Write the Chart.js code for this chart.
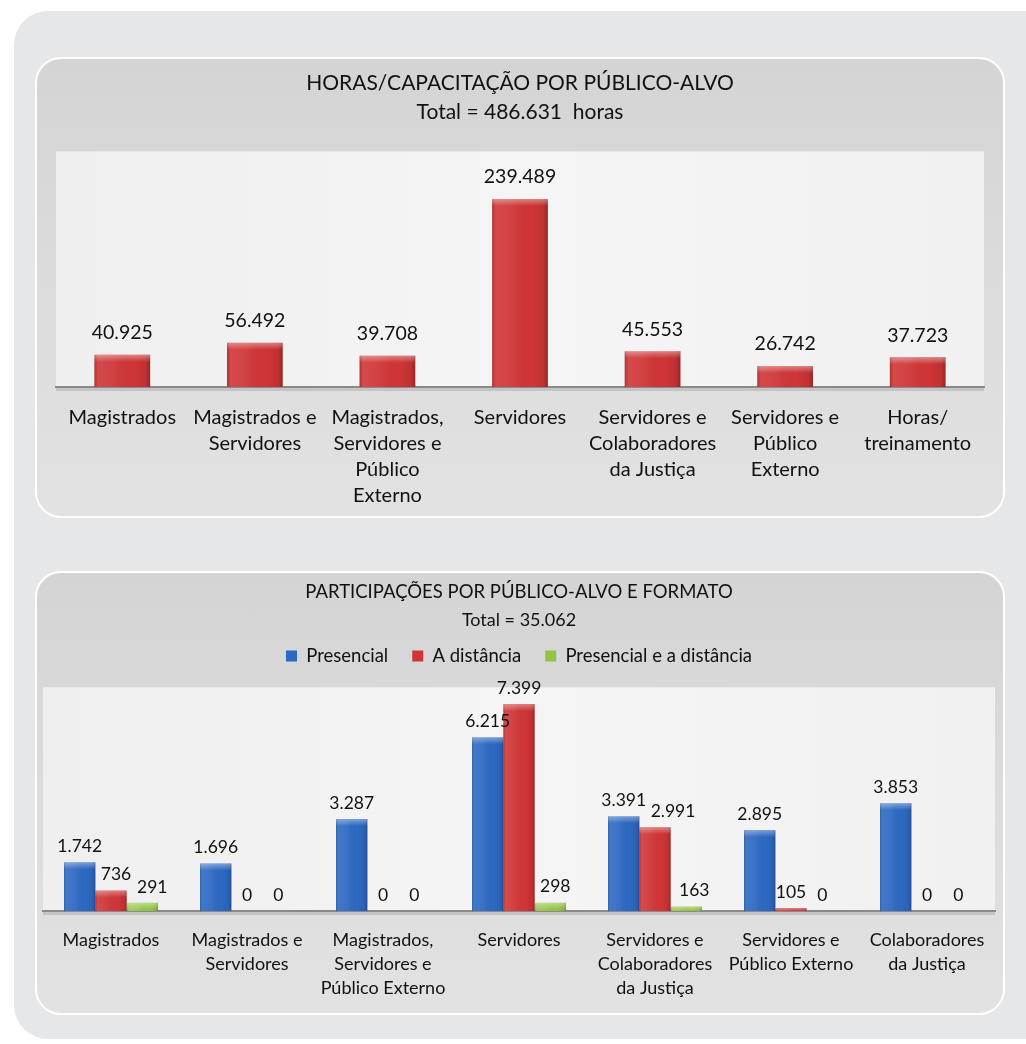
<!DOCTYPE html>
<html><head><meta charset="utf-8">
<script src="https://cdn.jsdelivr.net/npm/chart.js@4"></script>
<style>
html,body{margin:0;padding:0;background:#fff;}
body{width:1026px;height:1044px;position:relative;overflow:hidden;font-family:Lato,sans-serif;}
#outer{position:absolute;left:14px;top:11px;width:1080px;height:1028px;background:#e6e7e9;border-radius:34px;}
.panel{position:absolute;left:35px;width:966px;border:2px solid #fff;border-radius:26px;overflow:hidden;
 background:linear-gradient(180deg,#d4d4d4 0%,#d9d9d9 30%,#dedede 70%,#e2e2e2 100%);}
#p1{top:57px;height:457px;}
#p2{top:571px;height:440px;}
.wrap{position:absolute;left:0;top:0;width:966px;}
#w1{height:457px;}
#w2{height:440px;}
</style></head>
<body>
<div id="outer"></div>
<div class="panel" id="p1"><div class="wrap" id="w1"><canvas id="c1"></canvas></div></div>
<div class="panel" id="p2"><div class="wrap" id="w2"><canvas id="c2"></canvas></div></div>
<script>
// ---------- DATA ----------
const title1 = "HORAS/CAPACITAÇÃO POR PÚBLICO-ALVO";
const subtitle1 = "Total = 486.631  horas";
const categories1 = [
  ["Magistrados"],
  ["Magistrados e","Servidores"],
  ["Magistrados,","Servidores e","Público","Externo"],
  ["Servidores"],
  ["Servidores e","Colaboradores","da Justiça"],
  ["Servidores e","Público","Externo"],
  ["Horas/","treinamento"]
];
const hours = [40925, 56492, 39708, 239489, 45553, 26742, 37723];

const title2 = "PARTICIPAÇÕES POR PÚBLICO-ALVO E FORMATO";
const subtitle2 = "Total = 35.062";
const categories2 = [
  ["Magistrados"],
  ["Magistrados e","Servidores"],
  ["Magistrados,","Servidores e","Público Externo"],
  ["Servidores"],
  ["Servidores e","Colaboradores","da Justiça"],
  ["Servidores e","Público Externo"],
  ["Colaboradores","da Justiça"]
];
const seriesNames = ["Presencial", "A distância", "Presencial e a distância"];
const presencial = [1742, 1696, 3287, 6215, 3391, 2895, 3853];
const aDistancia = [736, 0, 0, 7399, 2991, 105, 0];
const ambos = [291, 0, 0, 298, 163, 0, 0];

// ---------- STYLE ----------
const FONT = "Lato, 'Open Sans', sans-serif";
const TEXT = "#111111";
const RED = "#cf3536", BLUE = "#2d69c2", GREEN = "#93c445";
// label nudges (pixels, styling only) keyed "dataset:index"
const labelNudge2 = { "1:0": 5, "2:0": 10, "2:3": 5, "1:4": 18, "2:4": 8 };

function fmt(v){ return String(v).replace(/\B(?=(\d{3})+(?!\d))/g, "."); }

const plotBg = {
  id: 'plotBg',
  beforeDraw(chart){
    const {ctx, chartArea:a} = chart;
    ctx.save();
    const g = ctx.createLinearGradient(a.left,0,a.right,0);
    g.addColorStop(0,'#efefef'); g.addColorStop(0.5,'#f5f5f5'); g.addColorStop(1,'#f1f1f1');
    ctx.fillStyle = g;
    ctx.fillRect(a.left, a.top, a.right-a.left, a.bottom-a.top);
    ctx.fillStyle = 'rgba(120,120,120,0.25)';
    ctx.fillRect(a.left, a.bottom+1, a.right-a.left, 3);
    ctx.restore();
  }
};

const barShade = {
  id: 'barShade',
  afterDatasetsDraw(chart){
    const ctx = chart.ctx;
    chart.data.datasets.forEach((ds, di) => {
      const meta = chart.getDatasetMeta(di);
      meta.data.forEach(el => {
        const w = el.width, x0 = el.x - w/2, top = Math.min(el.y, el.base), h = Math.abs(el.base - el.y);
        if (h < 0.5) return;
        ctx.save();
        const g = ctx.createLinearGradient(x0,0,x0+w,0);
        g.addColorStop(0,'rgba(0,0,0,0.18)');
        g.addColorStop(0.07,'rgba(255,255,255,0.10)');
        g.addColorStop(0.35,'rgba(255,255,255,0.06)');
        g.addColorStop(0.7,'rgba(0,0,0,0)');
        g.addColorStop(0.92,'rgba(0,0,0,0.08)');
        g.addColorStop(1,'rgba(0,0,0,0.28)');
        ctx.fillStyle = g;
        ctx.fillRect(x0, top, w, h);
        const hh = Math.min(7, h);
        const g2 = ctx.createLinearGradient(0,top,0,top+hh);
        g2.addColorStop(0,'rgba(255,255,255,0.38)');
        g2.addColorStop(1,'rgba(255,255,255,0)');
        ctx.fillStyle = g2;
        ctx.fillRect(x0, top, w, hh);
        ctx.restore();
      });
    });
  }
};

const dataLabels = {
  id: 'dataLabels',
  afterDatasetsDraw(chart, args, opts){
    const ctx = chart.ctx;
    ctx.save();
    ctx.font = opts.size + "px " + FONT;
    ctx.fillStyle = TEXT;
    ctx.textAlign = 'center';
    ctx.textBaseline = 'middle';
    const nudge = opts.nudge || {};
    chart.data.datasets.forEach((ds, di) => {
      const meta = chart.getDatasetMeta(di);
      meta.data.forEach((el, i) => {
        const dx = nudge[di + ":" + i] || 0;
        ctx.fillText(fmt(ds.data[i]), el.x + dx, el.y - opts.offset);
      });
    });
    ctx.restore();
  }
};

const legendSpace = {
  id: 'legendSpace',
  beforeLayout(chart, args, opts){
    const lg = chart.legend;
    if (lg && !lg._patched && opts.extra) {
      const f = lg.fit.bind(lg);
      lg.fit = function(){ f(); this.height += opts.extra; };
      lg._patched = true;
    }
  }
};

// ---------- CHART 1 ----------
new Chart(document.getElementById('c1'), {
  type: 'bar',
  data: {
    labels: categories1,
    datasets: [{ label: 'Horas', data: hours, backgroundColor: RED,
      barPercentage: 0.42, categoryPercentage: 1 }]
  },
  plugins: [plotBg, barShade, dataLabels],
  options: {
    responsive: true, maintainAspectRatio: false, animation: false, events: [],
    layout: { padding: { left: 19, right: 19, top: 0, bottom: 0 } },
    plugins: {
      legend: { display: false },
      tooltip: { enabled: false },
      title: { display: true, text: title1, color: TEXT,
        font: { family: FONT, size: 21, weight: 'normal', lineHeight: 1.2 },
        padding: { top: 12, bottom: 3 } },
      subtitle: { display: true, text: subtitle1, color: TEXT,
        font: { family: FONT, size: 21, weight: 'normal', lineHeight: 1.2 },
        padding: { top: 0, bottom: 27 } },
      dataLabels: { size: 19.5, offset: 22 }
    },
    scales: {
      x: {
        grid: { display: false, drawTicks: false },
        border: { display: true, color: '#8a8a8a', width: 2 },
        ticks: { color: TEXT, font: { family: FONT, size: 20, lineHeight: 26/20 },
          padding: 18, maxRotation: 0, autoSkip: false },
        afterFit(s){ s.height = 129; }
      },
      y: { display: false, min: 0, max: 300000 }
    }
  }
});

// ---------- CHART 2 ----------
const legendColors = [BLUE, RED, GREEN];
new Chart(document.getElementById('c2'), {
  type: 'bar',
  data: {
    labels: categories2,
    datasets: [
      { label: seriesNames[0], data: presencial, backgroundColor: BLUE },
      { label: seriesNames[1], data: aDistancia, backgroundColor: RED },
      { label: seriesNames[2], data: ambos, backgroundColor: GREEN }
    ]
  },
  plugins: [plotBg, barShade, dataLabels, legendSpace],
  options: {
    responsive: true, maintainAspectRatio: false, animation: false, events: [],
    datasets: { bar: { barPercentage: 1, categoryPercentage: 0.69 } },
    layout: { padding: { left: 6, right: 8, top: 0, bottom: 0 } },
    plugins: {
      tooltip: { enabled: false },
      title: { display: true, text: title2, color: TEXT,
        font: { family: FONT, size: 18.5, weight: 'normal', lineHeight: 1.2 },
        padding: { top: 8, bottom: 4 } },
      subtitle: { display: true, text: subtitle2, color: TEXT,
        font: { family: FONT, size: 18, weight: 'normal', lineHeight: 1.2 },
        padding: { top: 2, bottom: -8 } },
      legend: {
        display: true, position: 'top',
        labels: {
          color: TEXT, font: { family: FONT, size: 18.5 }, boxWidth: 11, boxHeight: 11, padding: 24,
          generateLabels(chart){
            return chart.data.datasets.map((ds, i) => ({
              text: ds.label, fillStyle: legendColors[i], strokeStyle: 'rgba(0,0,0,0)',
              lineWidth: 0, hidden: false, datasetIndex: i, fontColor: TEXT
            }));
          }
        }
      },
      legendSpace: { extra: 12 },
      dataLabels: { size: 17.5, offset: 16, nudge: labelNudge2 }
    },
    scales: {
      x: {
        grid: { display: false, drawTicks: false },
        border: { display: true, color: '#8a8a8a', width: 2 },
        ticks: { color: TEXT, font: { family: FONT, size: 18, lineHeight: 24/18 },
          padding: 17, maxRotation: 0, autoSkip: false },
        afterFit(s){ s.height = 102; }
      },
      y: { display: false, min: 0, max: 8000 }
    }
  }
});
</script>
</body></html>
